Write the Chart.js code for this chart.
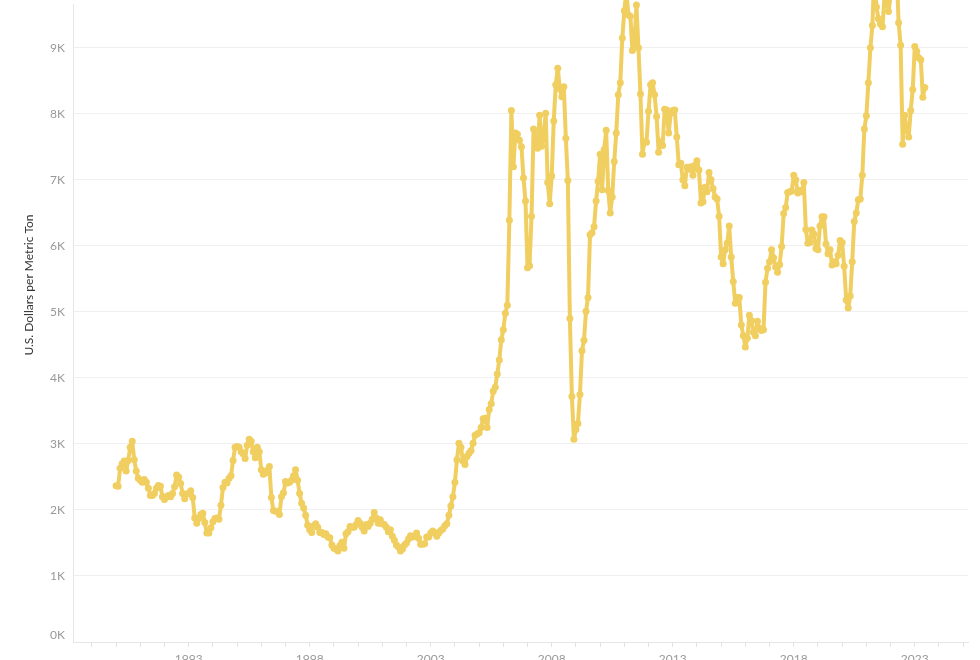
<!DOCTYPE html>
<html lang="en">
<head>
  <meta charset="UTF-8" />
  <title>Copper price</title>
  <script src="https://cdn.jsdelivr.net/npm/chart.js@4.4.1/dist/chart.umd.min.js"></script>
  <style>
    html, body { margin: 0; padding: 0; background: #fff; overflow: hidden; }
    #wrap { width: 980px; height: 660px; overflow: hidden; }
  </style>
</head>
<body>
  <div id="wrap"><canvas id="grafico" width="980" height="690"></canvas></div>
  <script>
    // monthly copper price, U.S. dollars per metric ton, from Jan 1990
    const firstYear = 1990;
    const prices = [
      2365, 2360, 2630, 2700, 2740, 2590, 2750, 2950, 3040, 2760, 2590, 2480, // 1990
      2450, 2420, 2460, 2420, 2330, 2220, 2220, 2250, 2330, 2370, 2360, 2200, // 1991
      2160, 2200, 2220, 2200, 2250, 2350, 2530, 2500, 2400, 2250, 2170, 2240, // 1992
      2250, 2290, 2190, 1880, 1800, 1870, 1930, 1950, 1810, 1650, 1650, 1730, // 1993
      1820, 1870, 1880, 1860, 2070, 2340, 2420, 2410, 2480, 2520, 2750, 2950, // 1994
      2960, 2950, 2880, 2850, 2780, 2980, 3070, 3040, 2880, 2790, 2950, 2880, // 1995
      2610, 2540, 2560, 2600, 2660, 2190, 1990, 1980, 1980, 1930, 2200, 2260, // 1996
      2430, 2410, 2420, 2450, 2520, 2610, 2450, 2250, 2100, 2030, 1920, 1770, // 1997
      1700, 1660, 1760, 1790, 1740, 1660, 1660, 1630, 1640, 1590, 1580, 1470, // 1998
      1420, 1410, 1380, 1460, 1510, 1420, 1640, 1670, 1750, 1740, 1740, 1780, // 1999
      1840, 1800, 1740, 1680, 1780, 1750, 1800, 1860, 1960, 1880, 1800, 1850, // 2000
      1790, 1780, 1740, 1670, 1700, 1600, 1540, 1470, 1440, 1380, 1410, 1470, // 2001
      1500, 1560, 1610, 1590, 1600, 1650, 1570, 1480, 1480, 1490, 1590, 1590, // 2002
      1650, 1680, 1660, 1600, 1650, 1690, 1710, 1760, 1790, 1920, 2060, 2200, // 2003
      2420, 2760, 3010, 2950, 2740, 2690, 2810, 2860, 2900, 3010, 3130, 3150, // 2004
      3170, 3250, 3380, 3390, 3250, 3520, 3610, 3800, 3860, 4060, 4270, 4580, // 2005
      4730, 4980, 5100, 6390, 8050, 7200, 7710, 7690, 7600, 7500, 7030, 6680, // 2006
      5670, 5700, 6450, 7770, 7660, 7480, 7980, 7510, 7650, 8010, 6960, 6640, // 2007
      7060, 7890, 8440, 8690, 8380, 8260, 8410, 7630, 6990, 4900, 3720, 3070, // 2008
      3220, 3310, 3750, 4410, 4570, 5010, 5220, 6170, 6200, 6290, 6680, 6980, // 2009
      7390, 6850, 7460, 7750, 6840, 6500, 6740, 7280, 7710, 8290, 8470, 9150, // 2010
      9560, 9870, 9500, 9480, 8960, 9070, 9650, 9000, 8300, 7390, 7580, 7570, // 2011
      8040, 8440, 8470, 8290, 7960, 7420, 7580, 7520, 8070, 8060, 7710, 8010, // 2012
      8050, 8060, 7650, 7230, 7250, 7000, 6910, 7190, 7160, 7200, 7070, 7220, // 2013
      7290, 7150, 6650, 6670, 6890, 6820, 7110, 7000, 6870, 6740, 6710, 6450, // 2014
      5830, 5730, 5940, 6040, 6300, 5830, 5460, 5130, 5220, 5220, 4800, 4640, // 2015
      4470, 4600, 4950, 4870, 4690, 4640, 4860, 4750, 4720, 4730, 5450, 5660, // 2016
      5760, 5940, 5820, 5680, 5600, 5720, 5990, 6490, 6580, 6810, 6820, 6830, // 2017
      7070, 7000, 6800, 6840, 6820, 6960, 6250, 6040, 6050, 6240, 6180, 5960, // 2018
      5940, 6300, 6440, 6440, 6030, 5880, 5940, 5710, 5760, 5730, 5860, 6080, // 2019
      6050, 5690, 5180, 5060, 5240, 5760, 6370, 6500, 6700, 6710, 7070, 7770, // 2020
      7970, 8470, 9000, 9340, 10180, 9620, 9440, 9360, 9320, 9780, 9770, 9550, // 2021
      9780, 9940, 10240, 10180, 9380, 9040, 7540, 7980, 7750, 7650, 8050, 8370, // 2022
      9020, 8950, 8850, 8820, 8250, 8400                                       // 2023
    ];
    const yTicks = [0, 1000, 2000, 3000, 4000, 5000, 6000, 7000, 8000, 9000];
    const xLabelYears = [1993, 1998, 2003, 2008, 2013, 2018, 2023];

    const lineColor = '#f0ce60';
    const tickFont = { family: 'Lato', size: 12 };

    const points = prices.map((v, i) => ({ x: firstYear + i / 12, y: v }));

    // y labels + axis title (0K sits a bit above its line, like the original)
    const yLabels = {
      id: 'yLabels',
      afterDraw(chart) {
        const ctx = chart.ctx;
        const y = chart.scales.y;
        ctx.save();
        ctx.font = '12px Lato';
        ctx.fillStyle = '#999';
        ctx.textAlign = 'right';
        ctx.textBaseline = 'middle';
        yTicks.forEach(v => {
          let py = y.getPixelForValue(v);
          if (v === 0) py -= 7;
          ctx.fillText(v / 1000 + 'K', 65, py);
        });
        ctx.translate(29, 285);
        ctx.rotate(-Math.PI / 2);
        ctx.textAlign = 'center';
        ctx.fillStyle = '#333';
        ctx.fillText('U.S. Dollars per Metric Ton', 0, 0);
        ctx.restore();
      }
    };

    new Chart(document.getElementById('grafico'), {
      type: 'line',
      data: {
        datasets: [{
          data: points,
          borderColor: lineColor,
          backgroundColor: lineColor,
          borderWidth: 4,
          borderJoinStyle: 'round',
          borderCapStyle: 'round',
          pointRadius: 3.5,
          pointBorderWidth: 0,
          pointBackgroundColor: lineColor,
          tension: 0,
          clip: false
        }]
      },
      options: {
        responsive: false,
        animation: false,
        layout: { padding: { left: 0, right: 12, top: 0, bottom: 0 } },
        plugins: { legend: { display: false }, tooltip: { enabled: false } },
        scales: {
          x: {
            type: 'linear',
            min: 1988.22,
            max: 2025.2,
            afterBuildTicks: s => {
              const t = [];
              for (let yr = 1989; yr <= 2025; yr++) t.push({ value: yr });
              s.ticks = t;
            },
            afterFit: s => { s.height = 48; s.paddingLeft = 0; s.paddingRight = 0; },
            ticks: {
              autoSkip: false,
              maxRotation: 0,
              padding: 5,
              color: '#999',
              font: tickFont,
              callback: v => xLabelYears.includes(v) ? String(v) : ''
            },
            grid: { drawOnChartArea: false, tickLength: 5, tickColor: '#e2e2e2' },
            border: { color: '#e6e6e6' }
          },
          y: {
            min: 0,
            max: 9664,
            afterBuildTicks: s => { s.ticks = yTicks.map(v => ({ value: v })); },
            afterFit: s => { s.width = 73; s.paddingTop = 0; s.paddingBottom = 0; },
            ticks: { display: false },
            grid: { color: '#f0f0f0', drawTicks: false },
            border: { color: '#e6e6e6' }
          }
        }
      },
      plugins: [yLabels]
    });
  </script>
</body>
</html>
